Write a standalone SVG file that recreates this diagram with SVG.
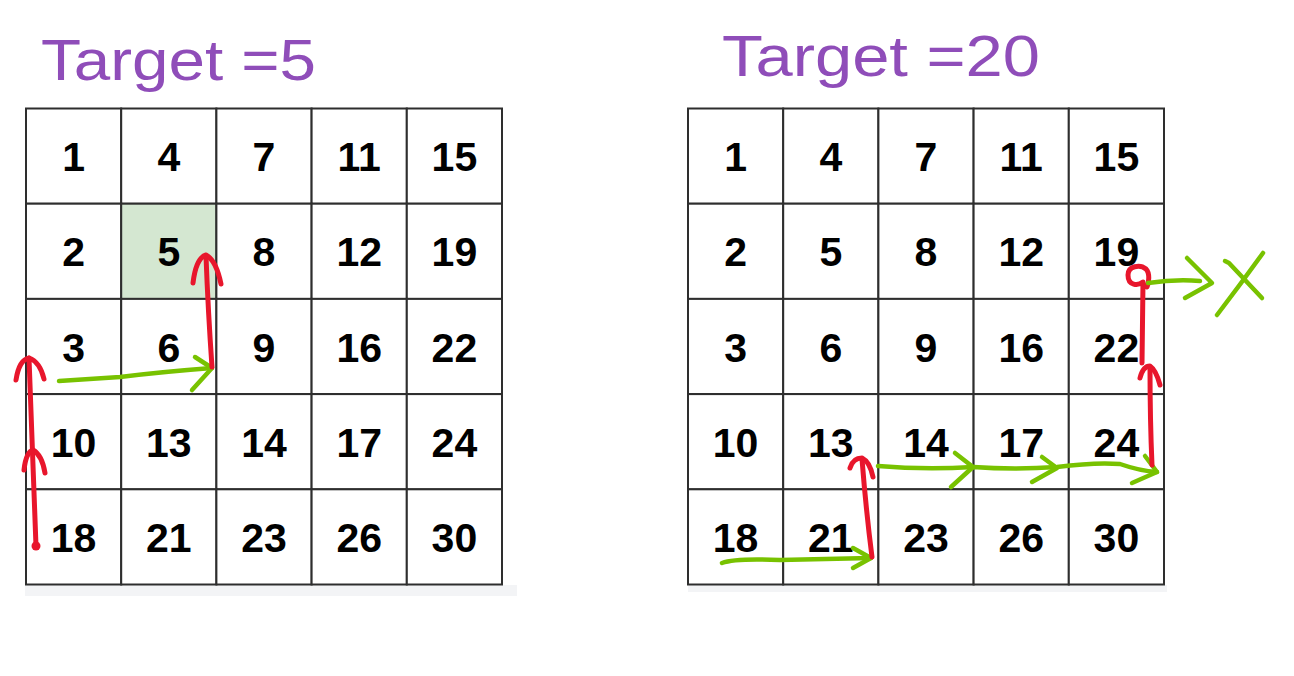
<svg xmlns="http://www.w3.org/2000/svg" width="1294" height="676" viewBox="0 0 1294 676">
<style>
.cell{fill:#ffffff;stroke:#2e2e2e;stroke-width:2}
.hl{fill:#d4e7d1}
.num{font-family:"Liberation Sans",Arial,sans-serif;font-weight:bold;font-size:41px;fill:#000;text-anchor:middle}
.title{font-family:"Liberation Sans",Arial,sans-serif;font-size:58px;fill:#8f4db9}
.red{fill:none;stroke:#e8162c;stroke-width:5;stroke-linecap:round;stroke-linejoin:round}
.grn{fill:none;stroke:#78c200;stroke-width:4.5;stroke-linecap:round;stroke-linejoin:round}
.strip{fill:#f3f4f6}
</style>
<rect width="1294" height="676" fill="#ffffff"/>
<rect class="strip" x="25" y="585" width="492" height="11"/>
<rect class="strip" x="688" y="585" width="479" height="7"/>
<g id="title-left"><text class="title" x="41" y="80" textLength="275" lengthAdjust="spacingAndGlyphs">Target =5</text></g>
<g id="title-right"><text class="title" x="722" y="76" textLength="318" lengthAdjust="spacingAndGlyphs">Target =20</text></g>

<g id="grid-left">
<g id="L-1"><rect class="cell" x="26" y="108.5" width="95.2" height="95.2"/><text class="num" x="73.6" y="171.1">1</text></g>
<g id="L-4"><rect class="cell" x="121.2" y="108.5" width="95.2" height="95.2"/><text class="num" x="168.8" y="171.1">4</text></g>
<g id="L-7"><rect class="cell" x="216.4" y="108.5" width="95.2" height="95.2"/><text class="num" x="264" y="171.1">7</text></g>
<g id="L-11"><rect class="cell" x="311.6" y="108.5" width="95.2" height="95.2"/><text class="num" x="359.2" y="171.1">11</text></g>
<g id="L-15"><rect class="cell" x="406.8" y="108.5" width="95.2" height="95.2"/><text class="num" x="454.4" y="171.1">15</text></g>
<g id="L-2"><rect class="cell" x="26" y="203.7" width="95.2" height="95.2"/><text class="num" x="73.6" y="266.3">2</text></g>
<g id="L-5"><rect class="cell hl" x="121.2" y="203.7" width="95.2" height="95.2"/><text class="num" x="168.8" y="266.3">5</text></g>
<g id="L-8"><rect class="cell" x="216.4" y="203.7" width="95.2" height="95.2"/><text class="num" x="264" y="266.3">8</text></g>
<g id="L-12"><rect class="cell" x="311.6" y="203.7" width="95.2" height="95.2"/><text class="num" x="359.2" y="266.3">12</text></g>
<g id="L-19"><rect class="cell" x="406.8" y="203.7" width="95.2" height="95.2"/><text class="num" x="454.4" y="266.3">19</text></g>
<g id="L-3"><rect class="cell" x="26" y="298.9" width="95.2" height="95.2"/><text class="num" x="73.6" y="361.5">3</text></g>
<g id="L-6"><rect class="cell" x="121.2" y="298.9" width="95.2" height="95.2"/><text class="num" x="168.8" y="361.5">6</text></g>
<g id="L-9"><rect class="cell" x="216.4" y="298.9" width="95.2" height="95.2"/><text class="num" x="264" y="361.5">9</text></g>
<g id="L-16"><rect class="cell" x="311.6" y="298.9" width="95.2" height="95.2"/><text class="num" x="359.2" y="361.5">16</text></g>
<g id="L-22"><rect class="cell" x="406.8" y="298.9" width="95.2" height="95.2"/><text class="num" x="454.4" y="361.5">22</text></g>
<g id="L-10"><rect class="cell" x="26" y="394.1" width="95.2" height="95.2"/><text class="num" x="73.6" y="456.7">10</text></g>
<g id="L-13"><rect class="cell" x="121.2" y="394.1" width="95.2" height="95.2"/><text class="num" x="168.8" y="456.7">13</text></g>
<g id="L-14"><rect class="cell" x="216.4" y="394.1" width="95.2" height="95.2"/><text class="num" x="264" y="456.7">14</text></g>
<g id="L-17"><rect class="cell" x="311.6" y="394.1" width="95.2" height="95.2"/><text class="num" x="359.2" y="456.7">17</text></g>
<g id="L-24"><rect class="cell" x="406.8" y="394.1" width="95.2" height="95.2"/><text class="num" x="454.4" y="456.7">24</text></g>
<g id="L-18"><rect class="cell" x="26" y="489.3" width="95.2" height="95.2"/><text class="num" x="73.6" y="551.9">18</text></g>
<g id="L-21"><rect class="cell" x="121.2" y="489.3" width="95.2" height="95.2"/><text class="num" x="168.8" y="551.9">21</text></g>
<g id="L-23"><rect class="cell" x="216.4" y="489.3" width="95.2" height="95.2"/><text class="num" x="264" y="551.9">23</text></g>
<g id="L-26"><rect class="cell" x="311.6" y="489.3" width="95.2" height="95.2"/><text class="num" x="359.2" y="551.9">26</text></g>
<g id="L-30"><rect class="cell" x="406.8" y="489.3" width="95.2" height="95.2"/><text class="num" x="454.4" y="551.9">30</text></g>
</g>

<g id="grid-right">
<g id="R-1"><rect class="cell" x="688" y="108.5" width="95.2" height="95.2"/><text class="num" x="735.6" y="171.1">1</text></g>
<g id="R-4"><rect class="cell" x="783.2" y="108.5" width="95.2" height="95.2"/><text class="num" x="830.8" y="171.1">4</text></g>
<g id="R-7"><rect class="cell" x="878.4" y="108.5" width="95.2" height="95.2"/><text class="num" x="926" y="171.1">7</text></g>
<g id="R-11"><rect class="cell" x="973.6" y="108.5" width="95.2" height="95.2"/><text class="num" x="1021.2" y="171.1">11</text></g>
<g id="R-15"><rect class="cell" x="1068.8" y="108.5" width="95.2" height="95.2"/><text class="num" x="1116.4" y="171.1">15</text></g>
<g id="R-2"><rect class="cell" x="688" y="203.7" width="95.2" height="95.2"/><text class="num" x="735.6" y="266.3">2</text></g>
<g id="R-5"><rect class="cell" x="783.2" y="203.7" width="95.2" height="95.2"/><text class="num" x="830.8" y="266.3">5</text></g>
<g id="R-8"><rect class="cell" x="878.4" y="203.7" width="95.2" height="95.2"/><text class="num" x="926" y="266.3">8</text></g>
<g id="R-12"><rect class="cell" x="973.6" y="203.7" width="95.2" height="95.2"/><text class="num" x="1021.2" y="266.3">12</text></g>
<g id="R-19"><rect class="cell" x="1068.8" y="203.7" width="95.2" height="95.2"/><text class="num" x="1116.4" y="266.3">19</text></g>
<g id="R-3"><rect class="cell" x="688" y="298.9" width="95.2" height="95.2"/><text class="num" x="735.6" y="361.5">3</text></g>
<g id="R-6"><rect class="cell" x="783.2" y="298.9" width="95.2" height="95.2"/><text class="num" x="830.8" y="361.5">6</text></g>
<g id="R-9"><rect class="cell" x="878.4" y="298.9" width="95.2" height="95.2"/><text class="num" x="926" y="361.5">9</text></g>
<g id="R-16"><rect class="cell" x="973.6" y="298.9" width="95.2" height="95.2"/><text class="num" x="1021.2" y="361.5">16</text></g>
<g id="R-22"><rect class="cell" x="1068.8" y="298.9" width="95.2" height="95.2"/><text class="num" x="1116.4" y="361.5">22</text></g>
<g id="R-10"><rect class="cell" x="688" y="394.1" width="95.2" height="95.2"/><text class="num" x="735.6" y="456.7">10</text></g>
<g id="R-13"><rect class="cell" x="783.2" y="394.1" width="95.2" height="95.2"/><text class="num" x="830.8" y="456.7">13</text></g>
<g id="R-14"><rect class="cell" x="878.4" y="394.1" width="95.2" height="95.2"/><text class="num" x="926" y="456.7">14</text></g>
<g id="R-17"><rect class="cell" x="973.6" y="394.1" width="95.2" height="95.2"/><text class="num" x="1021.2" y="456.7">17</text></g>
<g id="R-24"><rect class="cell" x="1068.8" y="394.1" width="95.2" height="95.2"/><text class="num" x="1116.4" y="456.7">24</text></g>
<g id="R-18"><rect class="cell" x="688" y="489.3" width="95.2" height="95.2"/><text class="num" x="735.6" y="551.9">18</text></g>
<g id="R-21"><rect class="cell" x="783.2" y="489.3" width="95.2" height="95.2"/><text class="num" x="830.8" y="551.9">21</text></g>
<g id="R-23"><rect class="cell" x="878.4" y="489.3" width="95.2" height="95.2"/><text class="num" x="926" y="551.9">23</text></g>
<g id="R-26"><rect class="cell" x="973.6" y="489.3" width="95.2" height="95.2"/><text class="num" x="1021.2" y="551.9">26</text></g>
<g id="R-30"><rect class="cell" x="1068.8" y="489.3" width="95.2" height="95.2"/><text class="num" x="1116.4" y="551.9">30</text></g>
</g>

<g id="connectors">
<!-- left path -->
<circle cx="36" cy="546" r="4.5" fill="#e8162c"/>
<path class="red" d="M36,546 Q33,460 29,358"/>
<path class="red" d="M24,470 Q26,452 33,450 Q42,455 45,473"/>
<path class="red" d="M16,380 Q19,360 29,358 Q40,362 44,379"/>
<path class="grn" d="M59,381 Q90,379 120,377 Q160,372 212,368"/>
<path class="grn" d="M195,357 L212,368 L192,390"/>
<path class="red" d="M212,367 Q208,310 206,256"/>
<path class="red" d="M193,283 Q196,258 206,255 Q216,260 221,284"/>
<!-- right path -->
<path class="grn" d="M722,563 Q735,558 780,560 Q830,559 871,558"/>
<path class="grn" d="M853,548 L871,558 L853,568"/>
<path class="red" d="M872,557 Q866,510 862,459"/>
<path class="red" d="M850,468 Q853,458 862,458 Q870,462 873,477"/>
<path class="grn" d="M878,466 Q925,470 973,467 Q1015,470 1057,467 Q1095,462 1120,464 Q1140,471 1157,472"/>
<path class="grn" d="M955,453 L973,467 L951,487"/>
<path class="grn" d="M1042,457 L1057,468 L1032,482"/>
<path class="grn" d="M1145,456 L1157,472 L1132,483"/>
<path class="red" d="M1152,465 Q1150,420 1150,367"/>
<path class="red" d="M1140,378 Q1143,366 1150,366 Q1156,370 1160,385"/>
<path class="red" d="M1142,363 L1143,282 C1138,286 1128,286 1128,275 C1128,266 1140,264 1146,269 C1150,273 1149,283 1147,287"/>
<path class="grn" d="M1148,283 Q1175,279 1200,281"/>
<path class="grn" d="M1187,258 L1212,283 L1185,298"/>
<path class="grn" d="M1225,261 L1229,263 Q1245,280 1262,298"/>
<path class="grn" d="M1263,253 Q1240,285 1217,315"/>
</g>
</svg>
